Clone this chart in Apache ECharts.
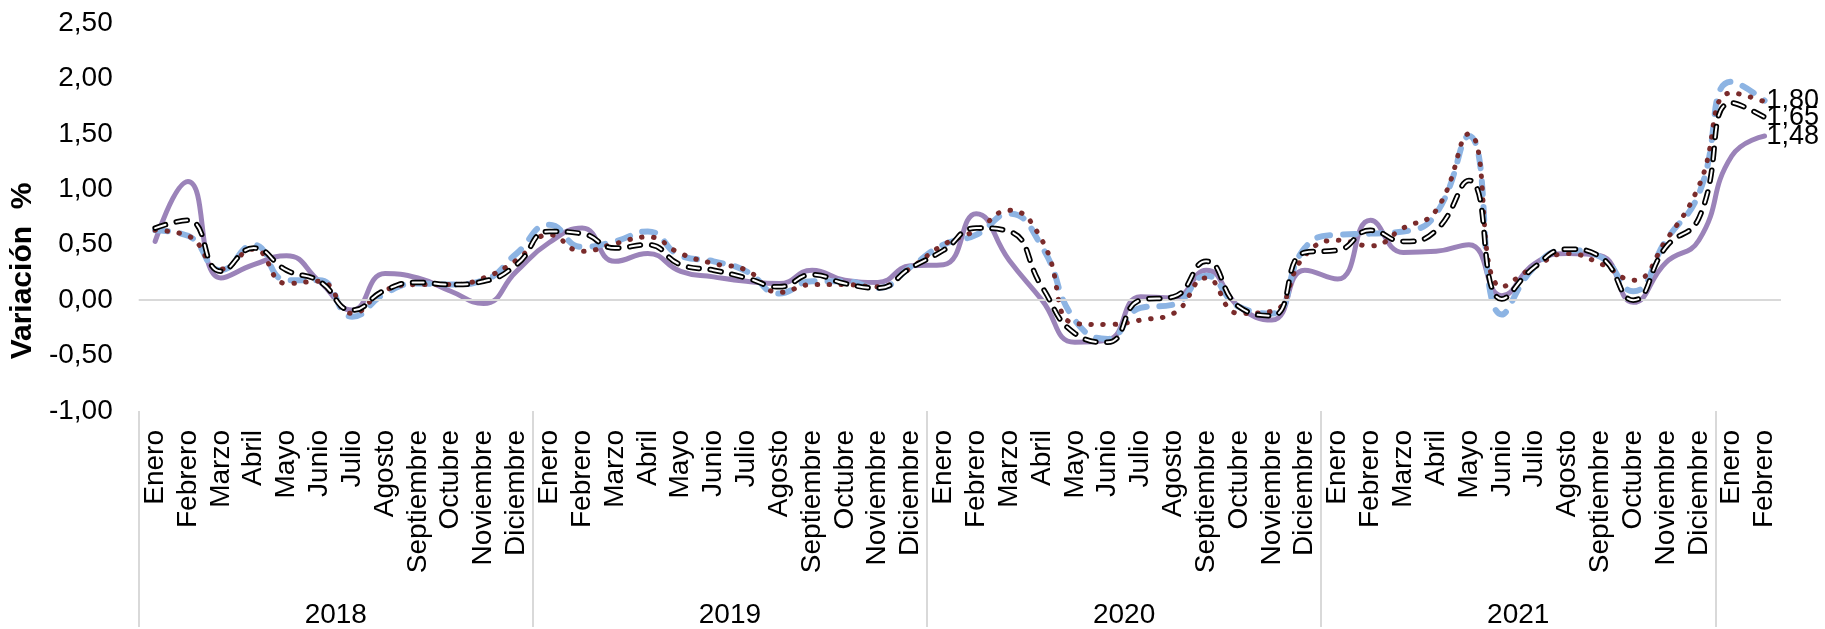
<!DOCTYPE html>
<html>
<head>
<meta charset="utf-8">
<script src="https://cdn.jsdelivr.net/npm/echarts@6/dist/echarts.min.js"></script>
<style>
  html, body { margin: 0; padding: 0; background: #fff; }
  #chart { width: 1825px; height: 629px; }
</style>
</head>
<body>
<div id="chart"></div>
<script>
const months = ['Enero', 'Febrero', 'Marzo', 'Abril', 'Mayo', 'Junio', 'Julio', 'Agosto', 'Septiembre', 'Octubre', 'Noviembre', 'Diciembre'];
const years = ['2018', '2019', '2020', '2021'];
// 4 full years + Enero/Febrero of the next one (its year label is not shown)
const categories = years.flatMap(() => months).concat(['Enero', 'Febrero']);

const seriePurpura = [
    0.53, 1.07, 0.20, 0.32, 0.40, 0.17, -0.09, 0.24, 0.20, 0.08, -0.03, 0.26,
    0.52, 0.65, 0.35, 0.42, 0.26, 0.21, 0.17, 0.15, 0.27, 0.18, 0.16, 0.31,
    0.32, 0.78, 0.36, 0.00, -0.38, -0.36, 0.03, 0.02, 0.27, -0.06, -0.18, 0.27,
    0.19, 0.72, 0.43, 0.44, 0.50, 0.04, 0.33, 0.42, 0.40, -0.02, 0.34, 0.54,
    1.30, 1.48
];
const serieNegra = [
    0.65, 0.72, 0.26, 0.47, 0.27, 0.17, -0.09, 0.09, 0.16, 0.14, 0.17, 0.32,
    0.62, 0.60, 0.47, 0.50, 0.32, 0.27, 0.20, 0.12, 0.23, 0.15, 0.11, 0.29,
    0.45, 0.65, 0.62, 0.12, -0.30, -0.38, 0.00, 0.03, 0.35, -0.06, -0.14, 0.43,
    0.45, 0.63, 0.53, 0.63, 1.08, 0.01, 0.30, 0.46, 0.39, 0.00, 0.48, 0.74,
    1.78, 1.65
];
const serieAzul = [
    0.63, 0.58, 0.27, 0.50, 0.18, 0.18, -0.15, 0.06, 0.15, 0.14, 0.18, 0.42,
    0.68, 0.48, 0.53, 0.62, 0.40, 0.35, 0.26, 0.06, 0.17, 0.17, 0.11, 0.30,
    0.50, 0.59, 0.78, 0.48, -0.18, -0.35, -0.07, -0.04, 0.22, -0.06, -0.12, 0.47,
    0.59, 0.60, 0.62, 0.78, 1.48, -0.13, 0.30, 0.45, 0.39, 0.08, 0.54, 0.96,
    1.97, 1.80
];
const serieRoja = [
    0.63, 0.58, 0.28, 0.46, 0.15, 0.17, -0.12, 0.09, 0.14, 0.14, 0.20, 0.36,
    0.59, 0.44, 0.51, 0.57, 0.42, 0.33, 0.27, 0.07, 0.14, 0.14, 0.12, 0.29,
    0.50, 0.63, 0.81, 0.54, -0.21, -0.22, -0.18, -0.12, 0.20, -0.12, -0.10, 0.40,
    0.54, 0.49, 0.65, 0.81, 1.50, 0.12, 0.30, 0.42, 0.33, 0.18, 0.54, 1.03,
    1.87, 1.79
];

// half-month slots for the year row: label in the middle of each year, separator at each start
const yearSlots = [];
for (let j = 0; j <= categories.length * 2; j++) {
    yearSlots.push(j % 24 === 12 && years[Math.floor(j / 24)] ? years[Math.floor(j / 24)] : '');
}

const fmt = v => Number(v).toFixed(2).replace('.', ',');
const font = 'Liberation Sans, Arial, sans-serif';

const chart = echarts.init(document.getElementById('chart'));

const endLabel = {
    show: true,
    formatter: p => fmt(p.value),
    fontSize: 27,
    fontFamily: font,
    color: '#000',
    distance: 2
};

const option = {
    animation: false,
    backgroundColor: '#fff',
    grid: { left: 137, right: 44, top: 23, bottom: 218 },
    xAxis: [
        {
            type: 'category',
            data: categories,
            boundaryGap: true,
            axisLine: { show: false },
            axisTick: { show: false },
            axisLabel: {
                rotate: 90,
                interval: 0,
                margin: 19,
                fontSize: 28,
                fontFamily: font,
                color: '#000'
            }
        },
        {
            type: 'category',
            data: yearSlots,
            boundaryGap: false,
            position: 'bottom',
            axisLine: { show: false },
            axisTick: {
                show: true,
                interval: (i) => i % 24 === 0 && i < yearSlots.length - 1,
                length: 216,
                lineStyle: { color: '#d9d9d9', width: 2 }
            },
            axisLabel: {
                interval: (i) => i % 24 === 12,
                margin: 190,
                fontSize: 28,
                fontFamily: font,
                color: '#000'
            }
        }
    ],
    yAxis: {
        type: 'value',
        min: -1,
        max: 2.5,
        interval: 0.5,
        name: 'Variación  %',
        nameLocation: 'middle',
        nameRotate: 90,
        nameGap: 100,
        nameTextStyle: {
            fontSize: 30,
            fontWeight: 'bold',
            fontFamily: font,
            color: '#000',
            padding: [0, 108, 0, 0]
        },
        axisLine: { show: false },
        axisTick: { show: false },
        splitLine: { show: false },
        axisLabel: {
            formatter: fmt,
            margin: 26,
            fontSize: 28,
            fontFamily: font,
            color: '#000'
        }
    },
    series: [
        {
            name: 'Púrpura',
            type: 'line',
            data: seriePurpura,
            smooth: 0.5,
            showSymbol: false,
            lineStyle: { color: '#9b83b9', width: 5, cap: 'round' },
            endLabel: endLabel,
            markLine: {
                silent: true,
                symbol: 'none',
                label: { show: false },
                lineStyle: { color: '#d9d9d9', width: 2, type: 'solid' },
                data: [{ yAxis: 0 }]
            },
            z: 2
        },
        {
            name: 'Azul',
            type: 'line',
            data: serieAzul,
            smooth: 0.5,
            showSymbol: false,
            lineStyle: { color: '#8db4e3', width: 6, type: [13, 13], cap: 'round' },
            endLabel: endLabel,
            z: 3
        },
        {
            name: 'Roja',
            type: 'line',
            data: serieRoja,
            smooth: 0.5,
            showSymbol: false,
            lineStyle: { color: '#7a2b2b', width: 5, type: [0.5, 11.5], cap: 'round' },
            z: 4
        },
        {
            name: 'Negra',
            type: 'line',
            data: serieNegra,
            smooth: 0.5,
            showSymbol: false,
            lineStyle: { color: '#000', width: 5.5, type: [11, 11], cap: 'round' },
            endLabel: endLabel,
            z: 5
        },
        {
            // white core of the black dashes
            name: 'Negra',
            type: 'line',
            data: serieNegra,
            smooth: 0.5,
            showSymbol: false,
            lineStyle: { color: '#fff', width: 2, type: [11, 11], cap: 'round' },
            z: 6
        }
    ]
};

chart.setOption(option);
</script>
</body>
</html>
